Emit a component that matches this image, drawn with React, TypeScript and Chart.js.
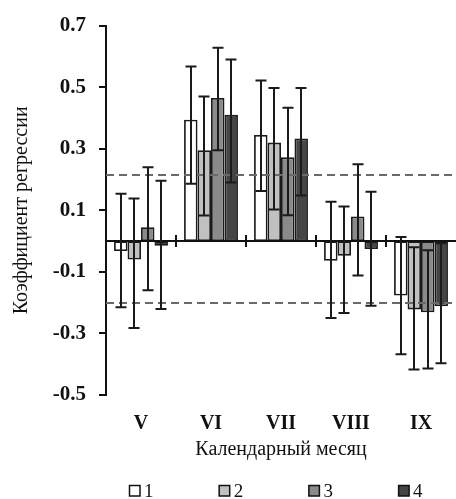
import { useEffect, useRef } from "react";
import { Chart, registerables } from "chart.js";

Chart.register(...registerables);

const months = ["V", "VI", "VII", "VIII", "IX"];
const seriesLabels = ["1", "2", "3", "4"];

const s1Values = [-0.032, 0.394, 0.345, -0.064, -0.177];
const s1Upper = [0.154, 0.567, 0.522, 0.128, 0.013];
const s1Lower = [-0.215, 0.186, 0.163, -0.25, -0.368];

const s2Values = [-0.06, 0.295, 0.32, -0.048, -0.222];
const s2Upper = [0.138, 0.47, 0.497, 0.112, -0.02];
const s2Lower = [-0.282, 0.083, 0.103, -0.234, -0.417];

const s3Values = [0.045, 0.465, 0.272, 0.08, -0.231];
const s3Upper = [0.24, 0.628, 0.433, 0.25, -0.03];
const s3Lower = [-0.16, 0.295, 0.084, -0.112, -0.414];

const s4Values = [-0.015, 0.41, 0.333, -0.026, -0.212];
const s4Upper = [0.196, 0.59, 0.497, 0.16, -0.007];
const s4Lower = [-0.221, 0.19, 0.148, -0.21, -0.397];

const yTicks = [-0.5, -0.3, -0.1, 0.1, 0.3, 0.5, 0.7];
const thresholds = [0.215, -0.2];

const seriesColors = ["#ffffff", "#c0c0c0", "#8a8a8a", "#454545"];
const FONT = "'Liberation Serif', 'Times New Roman', serif";

export default function App() {
  const ref = useRef<HTMLCanvasElement | null>(null);

  useEffect(() => {
    const canvas = ref.current;
    if (!canvas) return;

    const values = [s1Values, s2Values, s3Values, s4Values];
    const uppers = [s1Upper, s2Upper, s3Upper, s4Upper];
    const lowers = [s1Lower, s2Lower, s3Lower, s4Lower];

    const overlay = {
      id: "overlay",
      afterDatasetsDraw(chart: any) {
        const { ctx, chartArea } = chart;
        const y = chart.scales.y;
        const x = chart.scales.x;
        ctx.save();
        // threshold dashed lines
        ctx.strokeStyle = "#6a6a6a";
        ctx.lineWidth = 2;
        ctx.setLineDash([8, 5]);
        thresholds.forEach((t) => {
          const py = Math.round(y.getPixelForValue(t));
          ctx.beginPath();
          ctx.moveTo(chartArea.left, py);
          ctx.lineTo(chartArea.right, py);
          ctx.stroke();
        });
        ctx.setLineDash([]);
        // zero line
        const y0 = Math.round(y.getPixelForValue(0));
        ctx.strokeStyle = "#111";
        ctx.lineWidth = 2;
        ctx.beginPath();
        ctx.moveTo(chartArea.left, y0);
        ctx.lineTo(chartArea.right, y0);
        ctx.stroke();
        // category boundary ticks
        for (let i = 1; i < months.length; i++) {
          const bx = Math.round((x.getPixelForValue(i - 1) + x.getPixelForValue(i)) / 2);
          ctx.beginPath();
          ctx.moveTo(bx, y0 - 6);
          ctx.lineTo(bx, y0 + 6);
          ctx.stroke();
        }
        // error bars
        ctx.strokeStyle = "#1a1a1a";
        ctx.lineWidth = 2;
        chart.data.datasets.forEach((_ds: any, di: number) => {
          const meta = chart.getDatasetMeta(di);
          meta.data.forEach((el: any, i: number) => {
            const px = Math.round(el.x);
            const yh = y.getPixelForValue(uppers[di][i]);
            const yl = y.getPixelForValue(lowers[di][i]);
            ctx.beginPath();
            ctx.moveTo(px, yh);
            ctx.lineTo(px, yl);
            ctx.moveTo(px - 5.5, yh);
            ctx.lineTo(px + 5.5, yh);
            ctx.moveTo(px - 5.5, yl);
            ctx.lineTo(px + 5.5, yl);
            ctx.stroke();
          });
        });
        ctx.restore();
      },
      afterDraw(chart: any) {
        const { ctx, chartArea } = chart;
        ctx.save();
        ctx.font = `19px ${FONT}`;
        ctx.textBaseline = "alphabetic";
        ctx.textAlign = "left";
        const startX = chartArea.left + 23;
        const step = 89.7;
        const boxTop = chart.height - 14;
        seriesLabels.forEach((lab, i) => {
          const bx = startX + i * step;
          ctx.fillStyle = seriesColors[i];
          ctx.fillRect(bx, boxTop, 11, 11);
          ctx.strokeStyle = "#111";
          ctx.lineWidth = 1.5;
          ctx.strokeRect(bx + 0.5, boxTop + 0.5, 10.5, 10.5);
          ctx.fillStyle = "#111";
          ctx.fillText(lab, bx + 15, boxTop + 12);
        });
        ctx.restore();
      },
    };

    const chart = new Chart(canvas, {
      type: "bar",
      data: {
        labels: months,
        datasets: seriesLabels.map((lab, i) => ({
          label: lab,
          data: values[i],
          backgroundColor: seriesColors[i],
          borderColor: "#1a1a1a",
          borderWidth: 1.8,
          borderSkipped: false,
          categoryPercentage: 0.77,
          barPercentage: 1,
        })),
      },
      options: {
        animation: false,
        responsive: false,
        layout: { padding: { top: 21, right: 0, bottom: 30, left: 0 } },
        plugins: {
          legend: { display: false },
          tooltip: { enabled: false },
        },
        scales: {
          x: {
            grid: { display: false },
            border: { display: false },
            ticks: {
              color: "#111",
              font: { family: FONT, size: 20, weight: "bold" },
              padding: 9,
            },
            title: {
              display: true,
              text: "Календарный месяц",
              color: "#111",
              font: { family: FONT, size: 20 },
              padding: { top: 0, bottom: 7 },
            },
            afterFit(scale: any) {
              scale.height = 74;
            },
          },
          y: {
            min: -0.5,
            max: 0.7,
            afterBuildTicks(scale: any) {
              scale.ticks = yTicks.map((v) => ({ value: v }));
            },
            afterFit(scale: any) {
              scale.width = 106;
            },
            grid: {
              display: true,
              drawOnChartArea: false,
              drawTicks: true,
              tickLength: 7,
              color: "#111",
              lineWidth: 2,
            },
            border: { display: true, color: "#111", width: 2 },
            ticks: {
              color: "#111",
              font: { family: FONT, size: 21, weight: "bold" },
              padding: 13,
              callback: (v: any) => Number(v).toFixed(1),
            },
            title: {
              display: true,
              text: "Коэффициент регрессии",
              color: "#111",
              font: { family: FONT, size: 20 },
              padding: { top: 10, bottom: 0 },
            },
          },
        },
      },
      plugins: [overlay],
    });

    return () => chart.destroy();
  }, []);

  return (
    <div style={{ position: "absolute", left: 0, top: 0, width: 456, height: 499, background: "#fff" }}>
      <canvas ref={ref} width={456} height={499} />
    </div>
  );
}
